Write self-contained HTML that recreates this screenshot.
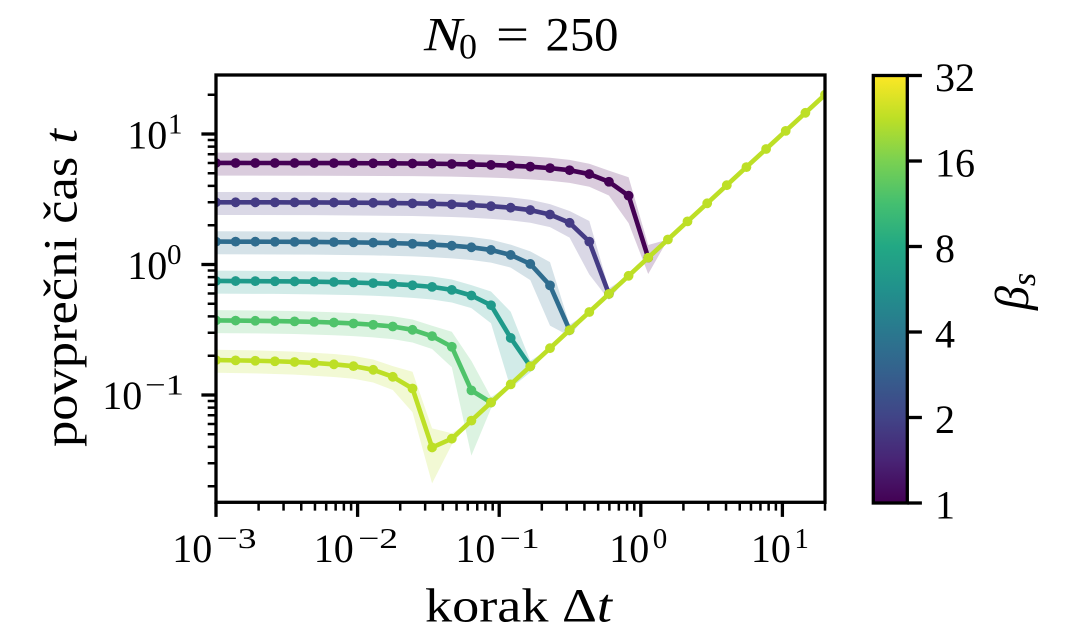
<!DOCTYPE html>
<html><head><meta charset="utf-8"><style>
html,body{margin:0;padding:0;background:#fff;}
svg{display:block;}
text{font-family:"Liberation Serif","DejaVu Serif",serif;fill:#000;}
</style></head><body>
<svg xmlns="http://www.w3.org/2000/svg" width="1080" height="630" viewBox="0 0 1080 630">
<defs>
<clipPath id="clip"><rect x="216" y="75" width="609" height="427.3"/></clipPath>
<linearGradient id="vir" x1="0" y1="1" x2="0" y2="0">
<stop offset="0" stop-color="#440154"/><stop offset="0.1" stop-color="#482475"/>
<stop offset="0.2" stop-color="#414487"/><stop offset="0.3" stop-color="#355f8d"/>
<stop offset="0.4" stop-color="#2a788e"/><stop offset="0.5" stop-color="#21918c"/>
<stop offset="0.6" stop-color="#22a884"/><stop offset="0.7" stop-color="#44bf70"/>
<stop offset="0.8" stop-color="#7ad151"/><stop offset="0.9" stop-color="#bddf26"/>
<stop offset="1" stop-color="#fde725"/>
</linearGradient>
<marker id="k1" markerWidth="12" markerHeight="12" refX="6" refY="6" markerUnits="userSpaceOnUse"><circle cx="6" cy="6" r="4.9" fill="#440154"/></marker>
<marker id="k2" markerWidth="12" markerHeight="12" refX="6" refY="6" markerUnits="userSpaceOnUse"><circle cx="6" cy="6" r="4.9" fill="#443b84"/></marker>
<marker id="k3" markerWidth="12" markerHeight="12" refX="6" refY="6" markerUnits="userSpaceOnUse"><circle cx="6" cy="6" r="4.9" fill="#2f6c8e"/></marker>
<marker id="k4" markerWidth="12" markerHeight="12" refX="6" refY="6" markerUnits="userSpaceOnUse"><circle cx="6" cy="6" r="4.9" fill="#1f9a8a"/></marker>
<marker id="k5" markerWidth="12" markerHeight="12" refX="6" refY="6" markerUnits="userSpaceOnUse"><circle cx="6" cy="6" r="4.9" fill="#4fc36a"/></marker>
<marker id="k6" markerWidth="12" markerHeight="12" refX="6" refY="6" markerUnits="userSpaceOnUse"><circle cx="6" cy="6" r="4.9" fill="#bddf26"/></marker>
</defs>
<rect x="0" y="0" width="1080" height="630" fill="#fff"/>

<g clip-path="url(#clip)">
<g fill-opacity="0.2" stroke="none">
<polygon fill="#440154" points="216,152.64 314.2,152.73 412.5,153.17 451.8,153.67 491,154.61 510.7,155.35 530.3,156.38 550,157.8 569.6,159.89 589.3,163.73 608.9,170.62 628.6,177.28 648.2,245.05 667.9,239.5 648.2,274.0 628.6,223.16 608.9,195.56 589.3,186.71 569.6,182.87 550,180.78 530.3,179.36 510.7,178.33 491,177.59 451.8,176.65 412.5,176.15 314.2,175.71 216,175.62"/>
<polygon fill="#443b84" points="216,191.96 314.2,192.13 412.5,193.02 451.8,194.01 471.4,194.8 491,195.88 510.7,197.38 530.3,199.74 550,204.16 569.6,211.06 589.3,220.95 608.9,288.5 628.6,275.8 608.9,299.87 589.3,274.56 569.6,237.6 550,227.14 530.3,222.72 510.7,220.36 491,218.86 471.4,217.78 451.8,216.99 412.5,216.0 314.2,215.11 216,214.94"/>
<polygon fill="#2f6c8e" points="216,231.28 314.2,231.64 373.2,232.36 412.5,233.4 432.1,234.24 451.8,235.38 471.4,236.96 491,239.62 510.7,244.63 530.3,251.37 550,262.1 569.6,324.7 589.3,312.0 569.6,336.07 550,325.61 530.3,280.12 510.7,267.61 491,262.6 471.4,259.94 451.8,258.36 432.1,257.22 412.5,256.38 373.2,255.34 314.2,254.62 216,254.26"/>
<polygon fill="#1f9a8a" points="216,270.65 274.9,270.94 314.2,271.37 353.5,272.17 373.2,272.81 392.8,273.69 412.5,274.9 432.1,276.56 451.8,279.55 471.4,285.17 491,291.56 510.7,311.71 530.3,360.9 550,348.2 530.3,372.27 510.7,388.26 491,323.26 471.4,308.15 451.8,302.53 432.1,299.54 412.5,297.88 392.8,296.67 373.2,295.79 353.5,295.15 314.2,294.35 274.9,293.92 216,293.63"/>
<polygon fill="#4fc36a" points="216,310.12 255.3,310.45 294.6,311.06 333.9,312.23 353.5,313.15 373.2,314.43 392.8,316.19 412.5,319.5 432.1,325.69 451.8,331.75 471.4,360.87 491,397.1 510.7,384.4 491,408.47 471.4,455.6 451.8,367.27 432.1,348.96 412.5,342.48 392.8,339.17 373.2,337.41 353.5,336.13 333.9,335.21 294.6,334.04 255.3,333.43 216,333.1"/>
<polygon fill="#bddf26" points="216,349.77 255.3,350.41 294.6,351.64 333.9,353.97 353.5,355.83 373.2,359.48 392.8,366.1 412.5,371.81 432.1,428.35 451.8,433.3 471.4,420.6 451.8,444.67 432.1,483.4 412.5,412.22 392.8,390.05 373.2,382.46 353.5,378.81 333.9,376.95 294.6,374.62 255.3,373.39 216,372.75"/>
</g>
<g fill="none" stroke-width="4.6" stroke-linejoin="round">
<polyline stroke="#440154" marker-start="url(#k1)" marker-mid="url(#k1)" marker-end="url(#k1)" points="216,162.97 235.6,162.98 255.3,163.0 274.9,163.01 294.6,163.03 314.2,163.06 333.9,163.1 353.5,163.16 373.2,163.24 392.8,163.35 412.5,163.5 432.1,163.71 451.8,164.0 471.4,164.39 491,164.94 510.7,165.68 530.3,166.71 550,168.13 569.6,170.22 589.3,174.06 608.9,181.73 628.6,195.7 648.2,257.7"/>
<polyline stroke="#443b84" marker-start="url(#k2)" marker-mid="url(#k2)" marker-end="url(#k2)" points="216,202.29 235.6,202.3 255.3,202.33 274.9,202.36 294.6,202.4 314.2,202.46 333.9,202.55 353.5,202.66 373.2,202.82 392.8,203.04 412.5,203.35 432.1,203.76 451.8,204.34 471.4,205.13 491,206.21 510.7,207.71 530.3,210.07 550,214.49 569.6,222.79 589.3,241.64 608.9,293.9"/>
<polyline stroke="#2f6c8e" marker-start="url(#k3)" marker-mid="url(#k3)" marker-end="url(#k3)" points="216,241.61 235.6,241.64 255.3,241.69 274.9,241.76 294.6,241.85 314.2,241.97 333.9,242.14 353.5,242.37 373.2,242.69 392.8,243.13 412.5,243.73 432.1,244.57 451.8,245.71 471.4,247.29 491,249.95 510.7,254.96 530.3,263.94 550,285.39 569.6,330.1"/>
<polyline stroke="#1f9a8a" marker-start="url(#k4)" marker-mid="url(#k4)" marker-end="url(#k4)" points="216,280.98 235.6,281.05 255.3,281.14 274.9,281.27 294.6,281.45 314.2,281.7 333.9,282.03 353.5,282.5 373.2,283.14 392.8,284.02 412.5,285.23 432.1,286.89 451.8,289.88 471.4,295.5 491,305.22 510.7,337.94 530.3,366.3"/>
<polyline stroke="#4fc36a" marker-start="url(#k5)" marker-mid="url(#k5)" marker-end="url(#k5)" points="216,320.45 235.6,320.59 255.3,320.78 274.9,321.04 294.6,321.39 314.2,321.88 333.9,322.56 353.5,323.48 373.2,324.76 392.8,326.52 412.5,329.83 432.1,336.14 451.8,346.77 471.4,390.39 491,402.5"/>
<polyline stroke="#bddf26" marker-start="url(#k6)" marker-mid="url(#k6)" marker-end="url(#k6)" points="216,360.1 235.6,360.37 255.3,360.74 274.9,361.26 294.6,361.97 314.2,362.95 333.9,364.3 353.5,366.16 373.2,369.81 392.8,376.82 412.5,388.49 432.1,447.42 451.8,438.7 471.4,420.6 491,402.5 510.7,384.4 530.3,366.3 550,348.2 569.6,330.1 589.3,312.0 608.9,293.9 628.6,275.8 648.2,257.7 667.9,239.5 687.5,221.4 707.2,203.3 726.8,185.2 746.4,167.1 766.1,149.0 785.7,130.9 805.4,112.8 825,94.7"/>
</g>
</g>

<g stroke="#000" stroke-width="3.3">
<line x1="216" y1="502.3" x2="216" y2="516.9"/>
<line x1="357.6" y1="502.3" x2="357.6" y2="516.9"/>
<line x1="499.2" y1="502.3" x2="499.2" y2="516.9"/>
<line x1="640.8" y1="502.3" x2="640.8" y2="516.9"/>
<line x1="782.4" y1="502.3" x2="782.4" y2="516.9"/>
<line x1="201.4" y1="134" x2="216" y2="134"/>
<line x1="201.4" y1="264.5" x2="216" y2="264.5"/>
<line x1="201.4" y1="395" x2="216" y2="395"/>
</g>
<g stroke="#000" stroke-width="2.5">
<path d="M258.62,502.3v8.3M283.56,502.3v8.3M301.25,502.3v8.3M314.97,502.3v8.3M326.18,502.3v8.3M335.66,502.3v8.3M343.87,502.3v8.3M351.11,502.3v8.3
M400.21,502.3v8.3M425.15,502.3v8.3M442.84,502.3v8.3M456.56,502.3v8.3M467.77,502.3v8.3M477.25,502.3v8.3M485.46,502.3v8.3M492.7,502.3v8.3
M541.81,502.3v8.3M566.75,502.3v8.3M584.44,502.3v8.3M598.16,502.3v8.3M609.37,502.3v8.3M618.85,502.3v8.3M627.06,502.3v8.3M634.3,502.3v8.3
M683.4,502.3v8.3M708.34,502.3v8.3M726.03,502.3v8.3M739.75,502.3v8.3M750.96,502.3v8.3M760.44,502.3v8.3M768.65,502.3v8.3M775.89,502.3v8.3
M825,502.3v8.3
M207.7,486.22h8.3M207.7,463.24h8.3M207.7,446.93h8.3M207.7,434.28h8.3M207.7,423.95h8.3M207.7,415.21h8.3M207.7,407.65h8.3M207.7,400.97h8.3
M207.7,355.72h8.3M207.7,332.74h8.3M207.7,316.43h8.3M207.7,303.78h8.3M207.7,293.45h8.3M207.7,284.71h8.3M207.7,277.15h8.3M207.7,270.47h8.3
M207.7,225.22h8.3M207.7,202.24h8.3M207.7,185.93h8.3M207.7,173.28h8.3M207.7,162.95h8.3M207.7,154.21h8.3M207.7,146.65h8.3M207.7,139.97h8.3
M207.7,94.72h8.3"/>
</g>
<rect x="216" y="75" width="609" height="427.3" fill="none" stroke="#000" stroke-width="3.3"/>

<text x="424" y="50.7" font-size="48" font-style="italic" textLength="38" lengthAdjust="spacingAndGlyphs">N</text>
<text x="459" y="58.3" font-size="36">0</text>
<text x="496" y="50.7" font-size="48" textLength="33" lengthAdjust="spacingAndGlyphs">=</text>
<text x="545.5" y="50.7" font-size="48" textLength="73" lengthAdjust="spacingAndGlyphs">250</text>

<text x="172.2" y="562" font-size="40">10</text><text x="216.5" y="548" font-size="29" textLength="40" lengthAdjust="spacingAndGlyphs">−3</text>
<text x="313.8" y="562" font-size="40">10</text><text x="358.1" y="548" font-size="29" textLength="40" lengthAdjust="spacingAndGlyphs">−2</text>
<text x="455.4" y="562" font-size="40">10</text><text x="499.7" y="548" font-size="29" textLength="40" lengthAdjust="spacingAndGlyphs">−1</text>
<text x="609.3" y="562" font-size="40">10</text><text x="652.8" y="548" font-size="29">0</text>
<text x="750.9" y="562" font-size="40">10</text><text x="794.4" y="548" font-size="29">1</text>

<text x="127.2" y="148.3" font-size="40">10</text><text x="168" y="133.3" font-size="29">1</text>
<text x="127.2" y="278.8" font-size="40">10</text><text x="167" y="263.8" font-size="29">0</text>
<text x="102.2" y="409" font-size="40">10</text><text x="145" y="394.3" font-size="29" textLength="39" lengthAdjust="spacingAndGlyphs">−1</text>

<text x="425" y="621.7" font-size="48" textLength="187" lengthAdjust="spacingAndGlyphs">korak Δ<tspan font-style="italic">t</tspan></text>
<text transform="translate(76.7,447) rotate(-90)" x="0" y="0" font-size="48" textLength="318" lengthAdjust="spacingAndGlyphs">povprečni čas <tspan font-style="italic">t</tspan></text>

<rect x="873.3" y="75.5" width="34" height="427.5" fill="url(#vir)"/>
<rect x="873.3" y="75.5" width="34" height="427.5" fill="none" stroke="#000" stroke-width="3.3"/>
<g stroke="#000" stroke-width="3.3">
<line x1="907.3" y1="503" x2="921.9" y2="503"/>
<line x1="907.3" y1="417.5" x2="921.9" y2="417.5"/>
<line x1="907.3" y1="332" x2="921.9" y2="332"/>
<line x1="907.3" y1="246.5" x2="921.9" y2="246.5"/>
<line x1="907.3" y1="161" x2="921.9" y2="161"/>
<line x1="907.3" y1="75.5" x2="921.9" y2="75.5"/>
</g>
<text x="935" y="518.5" font-size="40">1</text>
<text x="935" y="433" font-size="40">2</text>
<text x="935" y="347.5" font-size="40">4</text>
<text x="935" y="262" font-size="40">8</text>
<text x="935" y="176.5" font-size="40">16</text>
<text x="935" y="91" font-size="40">32</text>
<text transform="translate(1028,310) rotate(-90)" x="0" y="0" font-size="48" font-style="italic">β<tspan font-size="34" dy="7">s</tspan></text>
</svg>
</body></html>
